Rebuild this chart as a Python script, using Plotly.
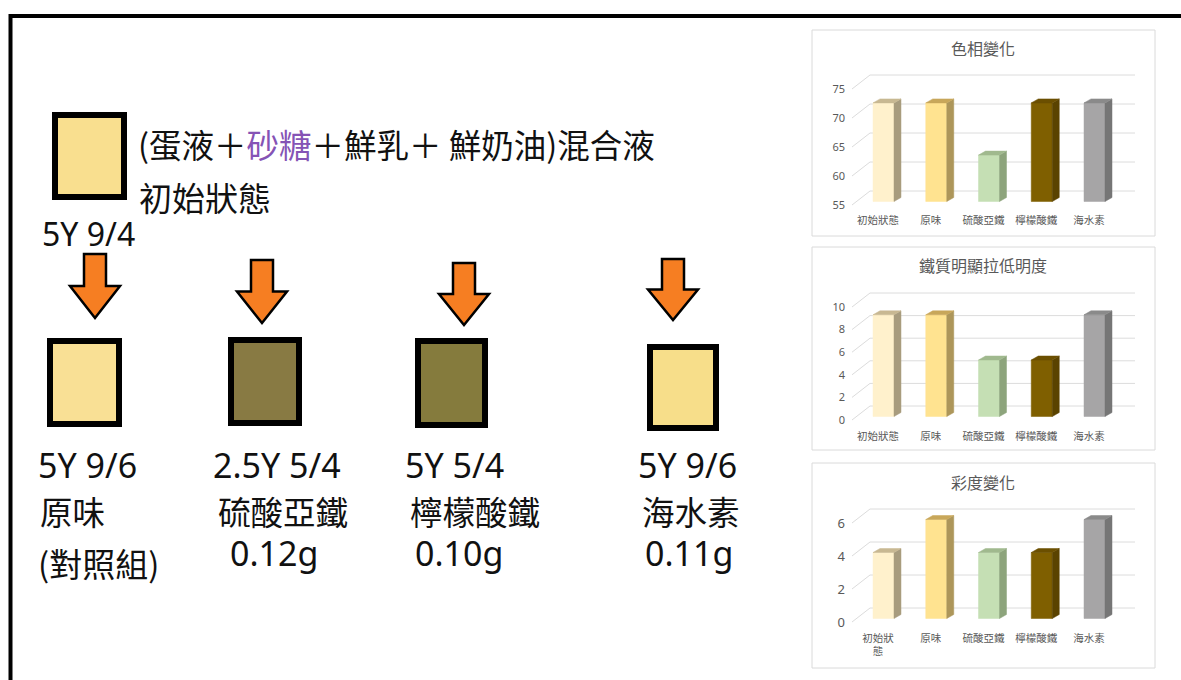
import plotly.graph_objects as go

W, H = 1181, 680

# ---------------- data ----------------
categories = ["初始狀態", "原味", "硫酸亞鐵", "檸檬酸鐵", "海水素"]
categories_wrapped = ["初始狀<br>態", "原味", "硫酸亞鐵", "檸檬酸鐵", "海水素"]

hue_values = [72, 72, 63, 72, 72]
lightness_values = [9, 9, 5, 5, 9]
chroma_values = [4, 6, 4, 4, 6]

hue_ticks = [55, 60, 65, 70, 75]
lightness_ticks = [0, 2, 4, 6, 8, 10]
chroma_ticks = [0, 2, 4, 6]

initial_code = "5Y 9/4"
munsell_codes = ["5Y 9/6", "2.5Y 5/4", "5Y 5/4", "5Y 9/6"]
sample_names = ["原味", "硫酸亞鐵", "檸檬酸鐵", "海水素"]
sample_amounts = ["(對照組)", "0.12g", "0.10g", "0.11g"]

# ---------------- styles ----------------
bar_front = ["#FFF1CC", "#FFE390", "#C5DFB4", "#7F5F00", "#A6A5A6"]
bar_side = ["#A89C7E", "#AD965A", "#8DA47C", "#5A4300", "#767676"]
bar_top = ["#C8B892", "#C8A75A", "#A0B98E", "#6B4F00", "#8A8A8A"]
initial_fill = "#F9DF8F"
sample_fill = ["#F9E095", "#887A43", "#857B3D", "#F7DE8A"]
arrow_fill = "#F67E22"
grid_color = "#DCDCDC"
label_color = "#595959"
CJK = "Noto Sans CJK TC"
LATIN = "Noto Sans"


def fx(p):
    return p / W


def fy(p):
    return 1 - p / H


fig = go.Figure()

# ---------------- 3D column charts ----------------
X_LABEL0, X_STEP = 878.0, 52.75      # category label centre / spacing (px)
X_DOM = (846, 1142)
xr = [(X_DOM[0] - X_LABEL0) / X_STEP, (X_DOM[1] - X_LABEL0) / X_STEP]
ux = 1.0 / X_STEP

charts = [
    dict(title="色相變化", values=hue_values, ticks=hue_ticks, base=55,
         ref=((75, 89), (55, 205)), dom=(70, 212), box=(30, 236), title_y=48,
         labels=categories, tick_size=11),
    dict(title="鐵質明顯拉低明度", values=lightness_values, ticks=lightness_ticks, base=0,
         ref=((10, 307), (0, 420)), dom=(288, 428), box=(247, 450), title_y=265,
         labels=categories, tick_size=11),
    dict(title="彩度變化", values=chroma_values, ticks=chroma_ticks, base=0,
         ref=((6, 523), (0, 622)), dom=(500, 630), box=(463, 668), title_y=482,
         labels=categories_wrapped, tick_size=13),
]

shapes = []
annotations = []

for k, ch in enumerate(charts, start=1):
    (vt, pt), (vb, pb) = ch["ref"]
    ppu = (pb - pt) / (vt - vb)
    uy = 1.0 / ppu
    d_top, d_bot = ch["dom"]
    yr = [vb - (d_bot - pb) * uy, vt + (pt - d_top) * uy]
    xa, ya = f"x{k}", f"y{k}"
    xname = "xaxis" if k == 1 else f"xaxis{k}"
    yname = "yaxis" if k == 1 else f"yaxis{k}"

    # back-wall gridlines with the slanted left edge
    gx, gy = [], []
    for t in ch["ticks"]:
        gx += [(852 - X_LABEL0) * ux, (870 - X_LABEL0) * ux, (1135 - X_LABEL0) * ux, None]
        gy += [t, t + 14 * uy, t + 14 * uy, None]
    fig.add_trace(go.Scatter(x=gx, y=gy, mode="lines", xaxis=xa, yaxis=ya,
                             line=dict(color=grid_color, width=1), hoverinfo="skip"))

    # columns: front, side and top faces
    half_w, off_x, off_y, dep_x, dep_y = 10.5, 5.5, 3.5, 7, 4
    base = ch["base"]
    for i, v in enumerate(ch["values"]):
        xl = i + (off_x - half_w) * ux
        xrgt = i + (off_x + half_w) * ux
        f = off_y * uy
        dx, dy = dep_x * ux, dep_y * uy
        b0, v0 = base + f, v + f
        faces = [
            ([xl, xrgt, xrgt, xl, xl], [b0, b0, v0, v0, b0], bar_front[i]),
            ([xrgt, xrgt + dx, xrgt + dx, xrgt, xrgt], [b0, b0 + dy, v0 + dy, v0, b0], bar_side[i]),
            ([xl, xrgt, xrgt + dx, xl + dx, xl], [v0, v0, v0 + dy, v0 + dy, v0], bar_top[i]),
        ]
        for px_, py_, col in faces:
            fig.add_trace(go.Scatter(x=px_, y=py_, mode="lines", fill="toself",
                                     fillcolor=col, line=dict(color=col, width=0.5),
                                     xaxis=xa, yaxis=ya, hoverinfo="skip"))

    fig.layout[xname] = dict(domain=[fx(X_DOM[0]), fx(X_DOM[1])], range=xr,
                             anchor=ya, tickvals=list(range(len(ch["labels"]))),
                             ticktext=ch["labels"], showgrid=False, zeroline=False,
                             showline=False, ticks="",
                             tickfont=dict(family=CJK, size=10.5, color=label_color))
    fig.layout[yname] = dict(domain=[fy(d_bot), fy(d_top)], range=yr, anchor=xa,
                             tickvals=ch["ticks"], showgrid=False, zeroline=False,
                             showline=False, ticks="",
                             tickfont=dict(family=LATIN, size=ch["tick_size"], color=label_color))

    # panel frame and title
    b_top, b_bot = ch["box"]
    shapes.append(dict(type="rect", xref="paper", yref="paper",
                       x0=fx(812), x1=fx(1155), y0=fy(b_bot), y1=fy(b_top),
                       line=dict(color="#DADADA", width=1), layer="below"))
    annotations.append(dict(text=ch["title"], xref="paper", yref="paper",
                            x=fx(983), y=fy(ch["title_y"]), xanchor="center", yanchor="middle",
                            showarrow=False, font=dict(family=CJK, size=16, color=label_color)))

# ---------------- left-hand diagram ----------------
# outer frame (left and top edges)
shapes.append(dict(type="path", xref="paper", yref="paper",
                   path=f"M {fx(10.5)},{fy(680)} L {fx(10.5)},{fy(16)} L {fx(1181)},{fy(16)}",
                   line=dict(color="black", width=4)))


def swatch(x0, y0, x1, y1, color):
    bw = 6
    return dict(type="rect", xref="paper", yref="paper",
                x0=fx(x0 + bw / 2), x1=fx(x1 - bw / 2), y0=fy(y1 - bw / 2), y1=fy(y0 + bw / 2),
                fillcolor=color, line=dict(color="black", width=bw))


shapes.append(swatch(52, 112, 127, 200, initial_fill))

sample_boxes = [(47, 338, 122, 427), (228, 337, 302, 426), (415, 338, 488, 428), (647, 344, 719, 431)]
for (x0, y0, x1, y1), col in zip(sample_boxes, sample_fill):
    shapes.append(swatch(x0, y0, x1, y1, col))

arrow_pos = [(95, 254, 318), (262, 260, 323), (464, 263, 325), (673, 259, 320)]
for cx, top, tip in arrow_pos:
    head = top + 0.5 * (tip - top)
    sw, hw = 11, 25
    pts = [(cx - sw, top), (cx + sw, top), (cx + sw, head), (cx + hw, head),
           (cx, tip), (cx - hw, head), (cx - sw, head)]
    path = "M " + " L ".join(f"{fx(a)},{fy(b)}" for a, b in pts) + " Z"
    shapes.append(dict(type="path", xref="paper", yref="paper", path=path,
                       fillcolor=arrow_fill, line=dict(color="black", width=2.5)))


def label(text, x, y, size, family=CJK, anchor="left", weight="normal"):
    annotations.append(dict(text=text, xref="paper", yref="paper", x=fx(x), y=fy(y),
                            xanchor=anchor, yanchor="middle", showarrow=False,
                            font=dict(family=family, size=size, color="#111111", weight=weight)))


label("(蛋液＋<span style='color:#8553B5'>砂糖</span>＋鮮乳＋ 鮮奶油)混合液", 136, 143, 32.5)
label("初始狀態", 137, 197, 33)
label(initial_code, 40, 233, 32, LATIN)

code_x = [36, 211, 403, 636]
name_x = [38, 216, 408, 640]
amount_x = [36, 228, 413, 643]
amount_y = [563, 553, 553, 553]
for i in range(4):
    label(munsell_codes[i], code_x[i], 465, 34, LATIN)
    label(sample_names[i], name_x[i], 510, 32.5)
    if i == 0:
        label(sample_amounts[i], amount_x[i], amount_y[i], 33)
    else:
        label(sample_amounts[i], amount_x[i], amount_y[i], 34, LATIN)

fig.update_layout(width=W, height=H, margin=dict(l=0, r=0, t=0, b=0),
                  paper_bgcolor="white", plot_bgcolor="rgba(0,0,0,0)",
                  showlegend=False, shapes=shapes, annotations=annotations)

fig.write_html("out.html")
